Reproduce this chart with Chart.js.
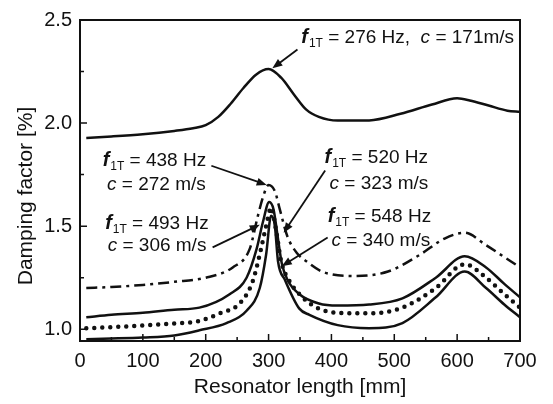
<!DOCTYPE html>
<html>
<head>
<meta charset="utf-8">
<script src="https://cdn.jsdelivr.net/npm/chart.js@4/dist/chart.umd.min.js"></script>
<style>
  html, body { margin: 0; padding: 0; background: #fff; }
  #wrap { width: 553px; height: 404px; }
</style>
</head>
<body>
<div id="wrap"><canvas id="graph" width="553" height="404"></canvas></div>
<script>
// ==========================================
// DONNÉES
// ==========================================

// f1T = 276 Hz
const len276 = [10, 50, 100, 150, 180, 200, 220, 240, 260, 280, 300, 320, 340, 360, 380, 410, 460, 510, 560, 600, 620, 650, 680, 700];
const damp276 = [1.928, 1.935, 1.946, 1.962, 1.975, 1.99, 2.03, 2.095, 2.17, 2.235, 2.262, 2.22, 2.14, 2.065, 2.03, 2.012, 2.013, 2.045, 2.09, 2.12, 2.11, 2.085, 2.06, 2.055];

// f1T = 438 Hz (trait-point)
const len438 = [10, 50, 100, 150, 200, 243, 270, 283, 291, 300, 310, 318, 330, 345, 360, 385, 435, 490, 540, 580, 612, 645, 675, 700];
const damp438 = [1.20, 1.205, 1.215, 1.23, 1.25, 1.30, 1.39, 1.55, 1.64, 1.70, 1.67, 1.58, 1.45, 1.37, 1.33, 1.28, 1.258, 1.28, 1.36, 1.44, 1.468, 1.41, 1.35, 1.30];

// f1T = 493 Hz (trait plein)
const len493 = [10, 50, 100, 150, 190, 238, 265, 281, 291, 301, 308, 314, 321, 330, 349, 380, 410, 460, 513, 566, 612, 646, 675, 700];
const damp493 = [1.058, 1.07, 1.08, 1.095, 1.105, 1.17, 1.25, 1.39, 1.52, 1.617, 1.58, 1.46, 1.32, 1.24, 1.17, 1.125, 1.115, 1.12, 1.15, 1.25, 1.354, 1.30, 1.22, 1.155];

// f1T = 520 Hz (pointillés)
const len520 = [10, 50, 100, 150, 190, 222, 254, 275, 288, 296, 304, 312, 320, 333, 354, 380, 410, 460, 513, 566, 612, 646, 675, 700];
const damp520 = [1.005, 1.01, 1.018, 1.028, 1.04, 1.077, 1.125, 1.235, 1.39, 1.50, 1.59, 1.48, 1.33, 1.235, 1.155, 1.10, 1.08, 1.077, 1.105, 1.20, 1.315, 1.25, 1.17, 1.105];

// f1T = 548 Hz (trait plein)
const len548 = [10, 50, 100, 150, 190, 233, 265, 286, 296, 304, 310, 315, 326, 349, 365, 410, 460, 513, 566, 612, 646, 675, 700];
const damp548 = [0.952, 0.955, 0.96, 0.97, 0.995, 1.03, 1.09, 1.20, 1.36, 1.55, 1.50, 1.33, 1.24, 1.10, 1.07, 1.02, 1.005, 1.03, 1.155, 1.28, 1.20, 1.12, 1.058];

// Graduations
const xTicks = [0, 100, 200, 300, 400, 500, 600, 700];
const xMinor = [50, 150, 250, 350, 450, 550, 650];
const yTicks = [1.0, 1.5, 2.0, 2.5];
const yMinor = [1.25, 1.75, 2.25];

// Annotations : lignes de texte [x, y, f, reste] et flèches [x0, y0, x1, y1] en unités des axes
const labels = [
    { lines: [[352, 2.39, true, " = 276 Hz,  ", "c", " = 171m/s"]], arrow: [346, 2.357, 306, 2.266] },
    { lines: [[36, 1.793, true, " = 438 Hz"], [43, 1.674, false, "", "c", " = 272 m/s"]], arrow: [209, 1.793, 297, 1.70] },
    { lines: [[40, 1.488, true, " = 493 Hz"], [44, 1.378, false, "", "c", " = 306 m/s"]], arrow: [211, 1.397, 286, 1.507] },
    { lines: [[389, 1.808, true, " = 520 Hz"], [397, 1.679, false, "", "c", " = 323 m/s"]], arrow: [390, 1.77, 324, 1.468] },
    { lines: [[394, 1.521, true, " = 548 Hz"], [400, 1.402, false, "", "c", " = 340 m/s"]], arrow: [394, 1.445, 321, 1.306] }
];

const police = "'Liberation Sans', Arial, sans-serif";
const noir = "#111";

function points(xs, ys) {
    return xs.map((x, i) => ({ x: x, y: ys[i] }));
}

// ==========================================
// DESSINS SUPPLÉMENTAIRES (cadre, graduations, textes)
// ==========================================

const decor = {
    id: "decor",
    afterDraw(chart) {
        const ctx = chart.ctx;
        const a = chart.chartArea;
        const sx = chart.scales.x;
        const sy = chart.scales.y;

        ctx.save();
        ctx.strokeStyle = noir;
        ctx.fillStyle = noir;

        // cadre
        ctx.lineWidth = 2;
        ctx.strokeRect(a.left, a.top, a.right - a.left, a.bottom - a.top);

        // graduations vers l'intérieur
        ctx.lineWidth = 1.5;
        ctx.beginPath();
        xTicks.forEach(v => { const p = sx.getPixelForValue(v); ctx.moveTo(p, a.bottom); ctx.lineTo(p, a.bottom - 7); });
        xMinor.forEach(v => { const p = sx.getPixelForValue(v); ctx.moveTo(p, a.bottom); ctx.lineTo(p, a.bottom - 4); });
        yTicks.forEach(v => { const p = sy.getPixelForValue(v); ctx.moveTo(a.left, p); ctx.lineTo(a.left + 7, p); });
        yMinor.forEach(v => { const p = sy.getPixelForValue(v); ctx.moveTo(a.left, p); ctx.lineTo(a.left + 4, p); });
        ctx.stroke();

        // titre de l'axe Y
        ctx.save();
        ctx.translate(26, 196);
        ctx.rotate(-Math.PI / 2);
        ctx.font = "21px " + police;
        ctx.textAlign = "center";
        ctx.textBaseline = "middle";
        ctx.fillText("Damping factor [%]", 0, 0);
        ctx.restore();

        // annotations
        ctx.textBaseline = "alphabetic";
        ctx.textAlign = "left";
        labels.forEach(l => {
            l.lines.forEach(ln => {
                let x = sx.getPixelForValue(ln[0]);
                const y = sy.getPixelForValue(ln[1]);
                if (ln[2]) {
                    ctx.font = "italic bold 20px " + police;
                    ctx.fillText("f", x, y);
                    x += ctx.measureText("f").width + 1;
                    ctx.font = "12px " + police;
                    ctx.fillText("1T", x, y + 4);
                    x += ctx.measureText("1T").width;
                }
                ctx.font = "19px " + police;
                ctx.fillText(ln[3], x, y);
                x += ctx.measureText(ln[3]).width;
                if (ln[4]) {
                    ctx.font = "italic 19px " + police;
                    ctx.fillText(ln[4], x, y);
                    x += ctx.measureText(ln[4]).width;
                    ctx.font = "19px " + police;
                    ctx.fillText(ln[5], x, y);
                }
            });

            // flèche
            const x0 = sx.getPixelForValue(l.arrow[0]);
            const y0 = sy.getPixelForValue(l.arrow[1]);
            const x1 = sx.getPixelForValue(l.arrow[2]);
            const y1 = sy.getPixelForValue(l.arrow[3]);
            const ang = Math.atan2(y1 - y0, x1 - x0);
            ctx.lineWidth = 1.8;
            ctx.beginPath();
            ctx.moveTo(x0, y0);
            ctx.lineTo(x1 - 6 * Math.cos(ang), y1 - 6 * Math.sin(ang));
            ctx.stroke();
            ctx.beginPath();
            ctx.moveTo(x1, y1);
            ctx.lineTo(x1 - 10 * Math.cos(ang) + 4 * Math.sin(ang), y1 - 10 * Math.sin(ang) - 4 * Math.cos(ang));
            ctx.lineTo(x1 - 10 * Math.cos(ang) - 4 * Math.sin(ang), y1 - 10 * Math.sin(ang) + 4 * Math.cos(ang));
            ctx.closePath();
            ctx.fill();
        });

        ctx.restore();
    }
};

// ==========================================
// GRAPHIQUE
// ==========================================

const commun = {
    borderColor: noir,
    backgroundColor: noir,
    pointRadius: 0,
    fill: false,
    cubicInterpolationMode: "monotone"
};

new Chart(document.getElementById("graph"), {

    type: "line",

    data: {
        datasets: [
            { ...commun, label: "276 Hz", data: points(len276, damp276), borderWidth: 2.5 },
            { ...commun, label: "438 Hz", data: points(len438, damp438), borderWidth: 2.5, borderDash: [11, 5, 3, 5] },
            { ...commun, label: "493 Hz", data: points(len493, damp493), borderWidth: 2.5 },
            { ...commun, label: "520 Hz", data: points(len520, damp520), borderWidth: 4.5, borderDash: [0, 8], borderCapStyle: "round" },
            { ...commun, label: "548 Hz", data: points(len548, damp548), borderWidth: 2.5 }
        ]
    },

    options: {
        responsive: false,
        animation: false,
        layout: { padding: { top: 15, right: 33, left: 0, bottom: 0 } },
        plugins: {
            legend: { display: false },
            tooltip: { enabled: false }
        },
        scales: {
            x: {
                type: "linear",
                min: 0,
                max: 700,
                afterBuildTicks: s => { s.ticks = xTicks.map(v => ({ value: v })); },
                afterFit: s => { s.height = 63; },
                grid: { display: false, drawTicks: false },
                border: { display: false },
                ticks: {
                    color: noir,
                    padding: 8,
                    maxRotation: 0,
                    font: { family: police, size: 20 }
                },
                title: {
                    display: true,
                    text: "Resonator length [mm]",
                    color: noir,
                    padding: { top: 4 },
                    font: { family: police, size: 21 }
                }
            },
            y: {
                type: "linear",
                min: 0.943,
                max: 2.5,
                afterBuildTicks: s => { s.ticks = yTicks.map(v => ({ value: v })); },
                afterFit: s => { s.width = 80; },
                grid: { display: false, drawTicks: false },
                border: { display: false },
                ticks: {
                    color: noir,
                    padding: 8,
                    font: { family: police, size: 20 },
                    callback: v => v.toFixed(1)
                }
            }
        }
    },

    plugins: [decor]

});
</script>
</body>
</html>
